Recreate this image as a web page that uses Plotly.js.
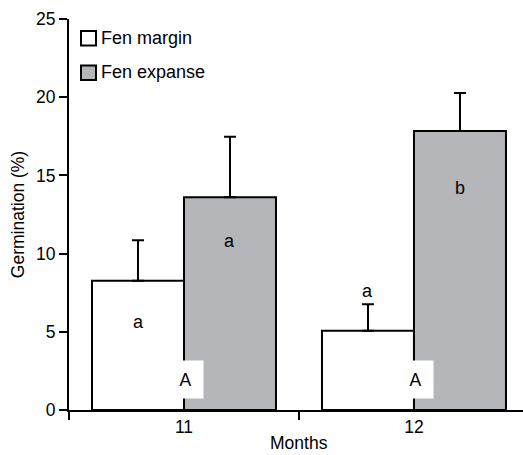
<!DOCTYPE html>
<html>
<head>
<meta charset="utf-8">
<script src="https://cdn.plot.ly/plotly-3.0.1.min.js"></script>
<style>html,body{margin:0;padding:0;background:#fff;}#chart{width:523px;height:455px;}</style>
</head>
<body>
<div id="chart"></div>
<script>
var months = [11, 12];
var seriesNames = ["Fen margin", "Fen expanse"];
var marginVals = [8.27, 5.07];
var marginErr = [2.58, 1.69];
var expanseVals = [13.6, 17.84];
var expanseErr = [3.87, 2.43];
var marginLetters = ["a", "a"];
var marginLetterY = [5.65, 7.6];
var expanseLetters = ["a", "b"];
var expanseLetterY = [10.8, 14.2];
var groupLetters = ["A", "A"];
var groupLetterY = [1.97, 1.97];
var xTitle = "Months";
var yTitle = "Germination (%)";

var FONT = "Liberation Sans, Arial, sans-serif";
var grey = "#b5b6b9";

var traces = [
  {type: "bar", name: seriesNames[0], x: months, y: marginVals, offsetgroup: "m",
   marker: {color: "#ffffff", line: {color: "#000", width: 2}},
   error_y: {type: "data", symmetric: false, array: marginErr, arrayminus: [0, 0], color: "#000", thickness: 2, width: 6},
   showlegend: false},
  {type: "bar", name: seriesNames[1], x: months, y: expanseVals, offsetgroup: "e",
   marker: {color: grey, line: {color: "#000", width: 2}},
   error_y: {type: "data", symmetric: false, array: expanseErr, arrayminus: [0, 0], color: "#000", thickness: 2, width: 6},
   showlegend: false}
];

var annotations = [];
for (var i = 0; i < months.length; i++) {
  annotations.push({x: months[i] - 0.2, y: marginLetterY[i], xref: "x", yref: "y", text: marginLetters[i], showarrow: false, font: {family: FONT, size: 18, color: "#000"}});
  annotations.push({x: months[i] + 0.2, y: expanseLetterY[i], xref: "x", yref: "y", text: expanseLetters[i], showarrow: false, font: {family: FONT, size: 18, color: "#000"}});
  annotations.push({x: months[i] + 0.008, y: groupLetterY[i], xref: "x", yref: "y", text: groupLetters[i], showarrow: false, bgcolor: "#ffffff", width: 33, height: 35, font: {family: FONT, size: 17.5, color: "#000"}});
}

// legend (custom, paper coords)
var W = 523 - 69, H = 410 - 19;
function px(x) { return (x - 69) / W; }
function py(y) { return (410 - y) / H; }
var shapes = [
  {type: "rect", xref: "paper", yref: "paper", x0: px(81), x1: px(96), y0: py(45.5), y1: py(31), fillcolor: "#ffffff", line: {color: "#000", width: 2}},
  {type: "rect", xref: "paper", yref: "paper", x0: px(81), x1: px(96), y0: py(80), y1: py(65.5), fillcolor: grey, line: {color: "#000", width: 2}}
];
annotations.push({xref: "paper", yref: "paper", x: px(99), y: py(38), xanchor: "left", yanchor: "middle", text: seriesNames[0], showarrow: false, font: {family: FONT, size: 18, color: "#000"}});
annotations.push({xref: "paper", yref: "paper", x: px(99), y: py(72.5), xanchor: "left", yanchor: "middle", text: seriesNames[1], showarrow: false, font: {family: FONT, size: 18, color: "#000"}});
annotations.push({xref: "paper", yref: "paper", x: px(299), y: py(443), xanchor: "center", yanchor: "middle", borderpad: 0, text: xTitle, showarrow: false, font: {family: FONT, size: 17.5, color: "#000"}});

var layout = {
  width: 523, height: 455,
  margin: {l: 69, r: 0, t: 19, b: 45},
  paper_bgcolor: "#fff", plot_bgcolor: "#fff",
  barmode: "group", bargap: 0.2, bargroupgap: 0,
  font: {family: FONT, size: 17, color: "#000"},
  showlegend: false,
  xaxis: {
    range: [10.5, 12.474], tickvals: [11, 12], ticktext: ["11", "12"],
    ticks: "", ticklen: 0,
    minor: {ticks: "outside", tick0: 10.5, dtick: 1, ticklen: 8, tickwidth: 2, tickcolor: "#000", showgrid: false},
    showline: true, linecolor: "#000", linewidth: 2, showgrid: false, zeroline: false,
    tickfont: {family: FONT, size: 17.5, color: "#000"}
  },
  yaxis: {
    range: [0, 25], tickvals: [0, 5, 10, 15, 20, 25],
    ticks: "outside", ticklen: 8, tickwidth: 2, tickcolor: "#000",
    showline: true, linecolor: "#000", linewidth: 2, showgrid: false, zeroline: false,
    tickfont: {family: FONT, size: 17.5, color: "#000"},
    title: {text: yTitle, font: {family: FONT, size: 17.5, color: "#000"}, standoff: 7}
  },
  shapes: shapes,
  annotations: annotations
};

Plotly.newPlot("chart", traces, layout, {displayModeBar: false, staticPlot: true});
</script>
</body>
</html>
